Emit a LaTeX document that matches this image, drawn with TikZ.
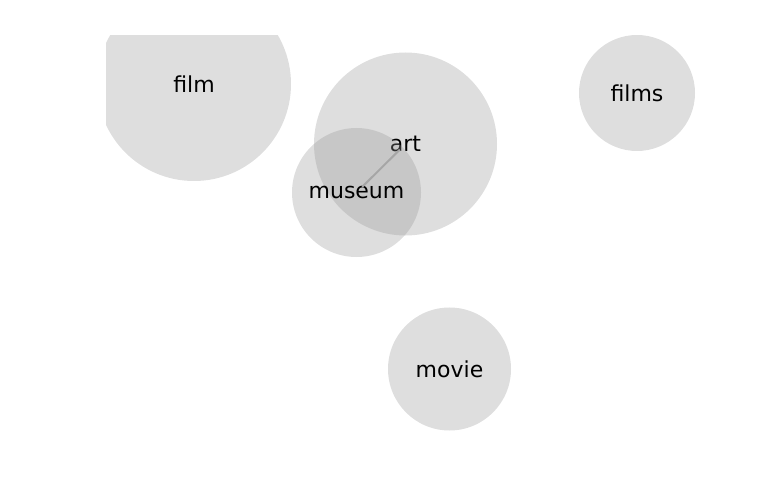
\documentclass[tikz,border=0pt]{standalone}
\usepackage{fontspec}
\setmainfont{DejaVu Sans}
\begin{document}
\begin{tikzpicture}[x=1bp,y=-1bp,
  bubble/.style={circle,fill=black!41,fill opacity=0.314,text opacity=1,inner sep=0pt,
    font=\fontsize{22bp}{26bp}\selectfont},
  link/.style={draw=black!35,line width=2bp,shorten >=8bp,shorten <=8bp}]
\useasboundingbox (0,0) rectangle (768,500);
\begin{scope}
\clip (106,36) rectangle (768,500);
\node[bubble,minimum size=194bp] (film) at (194,84) {film};
\node[bubble,minimum size=183bp] (art) at (405.5,144) {art};
\node[bubble,minimum size=129bp] (museum) at (356.5,192.5) {museum};
\node[bubble,minimum size=116bp] (films) at (637,93) {films};
\node[bubble,minimum size=123bp] (movie) at (449.5,369) {movie};
\draw[link] (art.center) -- (museum.center);
\end{scope}
\end{tikzpicture}
\end{document}
